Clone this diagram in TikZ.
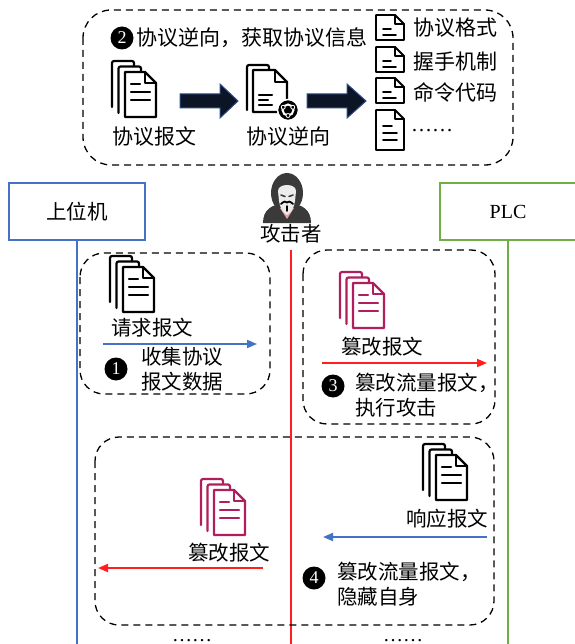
\documentclass[tikz,border=0pt]{standalone}
\usepackage{fontspec}
\setmainfont{Liberation Serif}
\newfontfamily\cjk{Noto Sans CJK SC}
\usetikzlibrary{arrows.meta}

\definecolor{hostblue}{HTML}{4472C4}
\definecolor{plcgreen}{HTML}{70AD47}
\definecolor{atkred}{HTML}{FF1F1F}
\definecolor{crim}{HTML}{B01E5E}
\definecolor{navyfill}{HTML}{0B1526}
\definecolor{navyedge}{HTML}{2E4A86}
\definecolor{hood}{HTML}{3A3A3A}
\definecolor{mask}{HTML}{ECECEC}
\definecolor{neck}{HTML}{E8A0A8}

\tikzset{
  % stack of three pages, origin = top-left corner of the front page
  pics/docstack/.style={code={
    \begin{scope}[line width=2.2pt, line join=round, line cap=round]
      \draw[rounded corners=2pt] (-13,35) -- (-13,-11) -- (9,-11) -- (9,-6);
      \draw[rounded corners=2pt] (-6.5,41) -- (-6.5,-5.5) -- (16,-5.5) -- (16,0);
      \draw[fill=white] (0,0) -- (20,0) -- (31,11) -- (31,45) -- (0,45) -- cycle;
      \draw (20,0) -- (20,11) -- (31,11);
      \draw (6,12) -- (15,12) (6,20) -- (25,20) (6,28) -- (25,28);
    \end{scope}
  }},
  % page with a gear badge
  pics/gearpage/.style={code={
    \begin{scope}[line width=2.2pt, line join=round, line cap=round]
      \draw[rounded corners=2pt] (-6,40) -- (-6,-5) -- (16,-5) -- (16,0);
      \draw[fill=white] (0,0) -- (22,0) -- (34,12) -- (34,42) -- (0,42) -- cycle;
      \draw (22,0) -- (22,12) -- (34,12);
      \draw (6,25) -- (19,25) (6,30) -- (15,30) (6,35) -- (19,35);
    \end{scope}
    \fill[black, draw=white, line width=1.5pt] (35,40) circle (10.5);
    \draw[white, line width=2pt] (35,40) circle (5.5);
    \foreach \a in {90,210,330}
      \fill[black, draw=white, line width=0.8pt] ($(35,40)+(\a:5.5)$) circle (2);
  }},
  % short single page
  pics/smallpage/.style={code={
    \begin{scope}[line width=1.8pt, line join=round, line cap=round]
      \draw[fill=white] (0,0) -- (19,0) -- (28,9) -- (28,25) -- (0,25) -- cycle;
      \draw (19,0) -- (19,9) -- (28,9);
      \draw (7,14) -- (15,14) (7,20) -- (20,20);
    \end{scope}
  }},
  % tall single page
  pics/tallpage/.style={code={
    \begin{scope}[line width=1.8pt, line join=round, line cap=round]
      \draw[fill=white] (0,0) -- (19,0) -- (28,9) -- (28,40) -- (0,40) -- cycle;
      \draw (19,0) -- (19,9) -- (28,9);
      \draw (7,16) -- (16,16) (7,23) -- (21,23) (7,30) -- (21,30);
    \end{scope}
  }},
  cn/.style={font=\cjk\fontsize{20.5}{25}\selectfont, inner sep=0pt},
  cnbig/.style={font=\cjk\fontsize{21}{25}\selectfont, inner sep=0pt},
  numcirc/.style={circle, fill=black, text=white, inner sep=0pt, minimum size=23pt,
                  font=\fontsize{18}{18}\selectfont},
  phase/.style={draw=black, dash pattern=on 7pt off 5pt, line width=1.3pt, rounded corners=24pt},
  bigarrow/.style={fill=navyfill, draw=navyedge, line width=1pt, line join=miter},
  bluearr/.style={draw=hostblue, line width=1.8pt, -{Triangle[length=10pt,width=8pt]}},
  redarr/.style={draw=atkred, line width=1.8pt, -{Triangle[length=10pt,width=8pt]}},
  endpoint/.style={draw, line width=1.2pt, minimum width=136pt, minimum height=57pt,
                   font=\cjk\fontsize{20.5}{25}\selectfont},
}
\usetikzlibrary{calc}

\begin{document}
\begin{tikzpicture}[x=1pt, y=-1pt]
\useasboundingbox (0,0) rectangle (574,644);

% ---------- protocol reverse engineering phase ----------
\draw[phase, rounded corners=28pt] (83,10) rectangle (513,165);
\node[numcirc] (n2) at (122,38) {2};
\node[cnbig, anchor=west] (t2) at (136,38) {协议逆向，获取协议信息};

\pic at (125,72) {docstack};
\node[cnbig] (lbmsg) at (154,137) {协议报文};
\draw[bigarrow] (180,94) -- (220,94) -- (220,84) -- (238,101) -- (220,118) -- (220,108) -- (180,108) -- cycle;
\pic at (253,70) {gearpage};
\node[cnbig] (lbrev) at (288,137) {协议逆向};
\draw[bigarrow] (307,94) -- (347,94) -- (347,84) -- (366,101) -- (347,118) -- (347,108) -- (307,108) -- cycle;

\pic at (376,15) {smallpage};
\pic at (376,47) {smallpage};
\pic at (376,78) {smallpage};
\pic at (376,110) {tallpage};
\node[cnbig, anchor=west] (i1) at (413,28) {协议格式};
\node[cnbig, anchor=west] (i2) at (413,62) {握手机制};
\node[cnbig, anchor=west] (i3) at (413,92) {命令代码};
\node[inner sep=0pt, anchor=base west, font=\fontsize{21}{25}\selectfont] (i4) at (411,132) {……};

% ---------- communicating parties ----------
\node[endpoint, draw=hostblue] (host) at (77,211.5) {上位机};
\node[endpoint, draw=plcgreen, font=\fontsize{20}{24}\selectfont] (plc) at (508,211.5) {PLC};
\coordinate (hostend) at (77,644);
\coordinate (plcend) at (508,644);
\draw[hostblue, line width=1.3pt] (host.south) -- (hostend);
\draw[plcgreen, line width=1.3pt] (plc.south) -- (plcend);

% attacker figure
\begin{scope}
  \fill[hood] (263,223) .. controls (263,210) and (271,204) .. (287,203)
              .. controls (303,204) and (311,210) .. (311,223) -- cycle;
  \fill[hood] (287,193) ellipse (16 and 20);
  \fill[neck] (280,208) -- (294,208) -- (287,219) -- cycle;
  \fill[mask] (278,191) .. controls (278,183) and (296,183) .. (296,191)
              -- (295,201) .. controls (294,208) and (291,213) .. (287,215)
              .. controls (283,213) and (280,208) .. (279,201) -- cycle;
  \draw[hood, line width=1.6pt, line cap=round] (281,195) -- (285,196.5) (289,196.5) -- (293,195);
  \draw[black, line width=1.8pt, line cap=round] (281,204) .. controls (284,201) and (286,201) .. (287,202.5)
        .. controls (288,201) and (290,201) .. (293,204);
  \draw[black, line width=1.5pt, line cap=round] (287,206) -- (287,211);
\end{scope}
\node[cn] (atk) at (291,234) {攻击者};
\coordinate (atkend) at (291,644);
\draw[atkred, line width=1.3pt] ($(atk.south)+(0,6)$) -- (atkend);

% ---------- step 1: collect request messages ----------
\draw[phase] (80,253) rectangle (270,394);
\pic at (123,267) {docstack};
\node[cn] (req) at (152,328) {请求报文};
\coordinate (r1s) at (103,344);
\coordinate (r1e) at (257,344);
\draw[bluearr] (r1s) -- (r1e);
\node[numcirc] (n1) at (116,369) {1};
\node[cn, anchor=west, align=left] (t1) at (141,369.5) {收集协议\\报文数据};

% ---------- step 3: tamper requests ----------
\draw[phase] (303,250) rectangle (495,424);
\pic[color=crim] at (353,283) {docstack};
\node[cn] (fake1) at (382,347) {篡改报文};
\coordinate (r3s) at (322,363);
\coordinate (r3e) at (487,363);
\draw[redarr] (r3s) -- (r3e);
\node[numcirc] (n3) at (333,386) {3};
\node[cn, anchor=west, align=left] (t3) at (355,395.5) {篡改流量报文，\\执行攻击};

% ---------- step 4: tamper responses ----------
\draw[phase] (95,437) rectangle (494,625);
\pic at (436,455) {docstack};
\node[cn] (resp) at (447,519) {响应报文};
\coordinate (r4s) at (487,537);
\coordinate (r4e) at (323,537);
\draw[bluearr] (r4s) -- (r4e);
\pic[color=crim] at (214,490) {docstack};
\node[cn] (fake2) at (229,553) {篡改报文};
\coordinate (r5s) at (263,568);
\coordinate (r5e) at (98,568);
\draw[redarr] (r5s) -- (r5e);
\node[numcirc] (n4) at (314,578) {4};
\node[cn, anchor=west, align=left] (t4) at (337,584.5) {篡改流量报文，\\隐藏自身};

\node[inner sep=0pt, anchor=base, font=\fontsize{20}{24}\selectfont] (more1) at (192,641) {……};
\node[inner sep=0pt, anchor=base, font=\fontsize{20}{24}\selectfont] (more2) at (403,641) {……};
\end{tikzpicture}
\end{document}
